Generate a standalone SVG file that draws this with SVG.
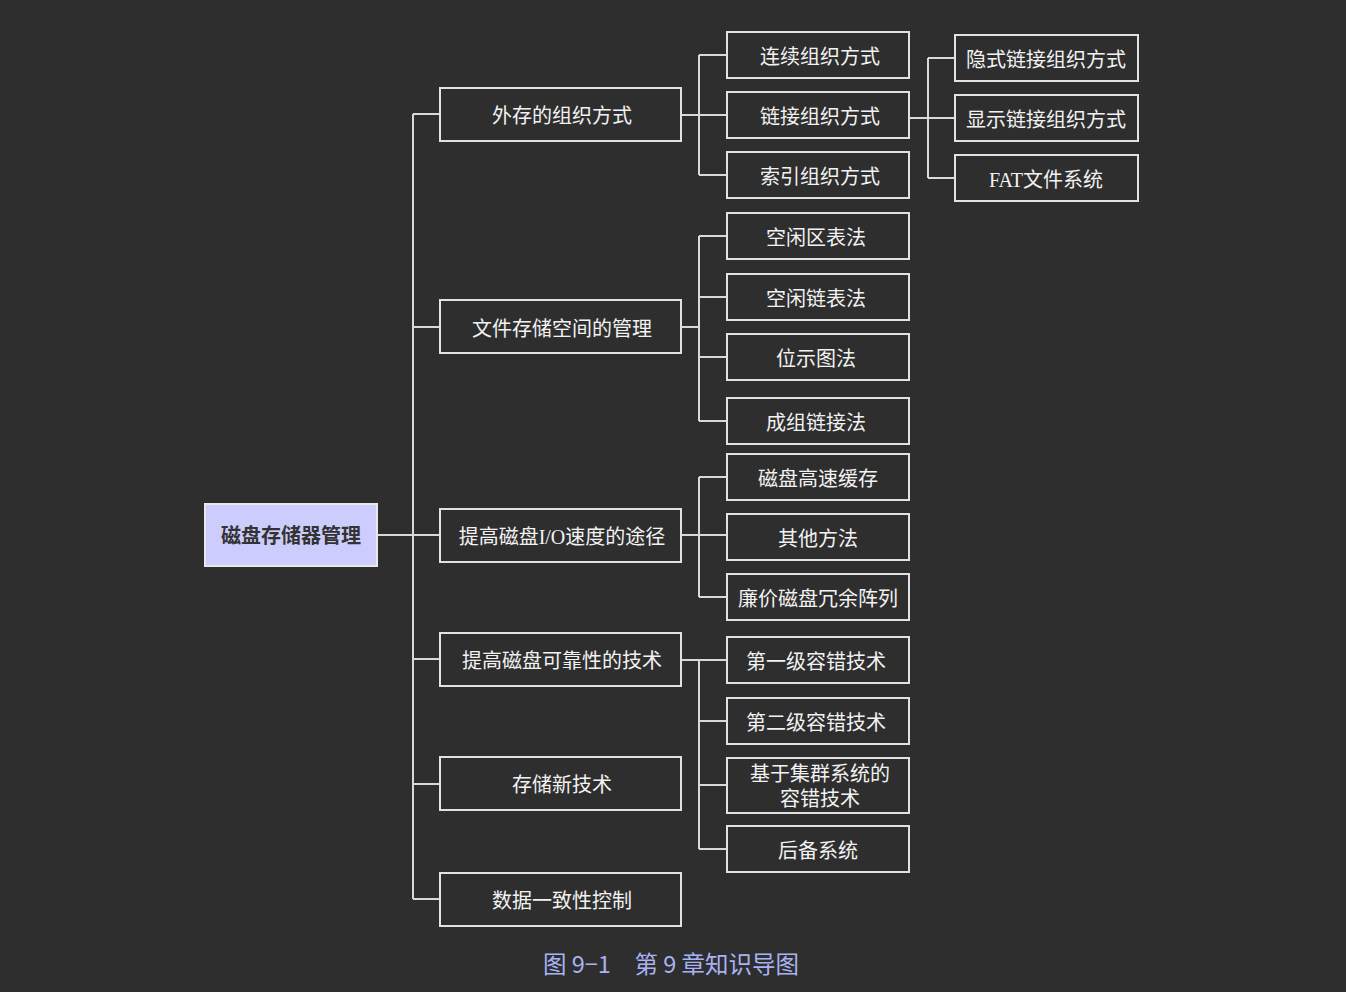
<svg xmlns="http://www.w3.org/2000/svg" width="1346" height="992" viewBox="0 0 1346 992">
<style>
.bx{fill:#2e2e2e;stroke:#e2e2e2;stroke-width:2}
.t{font-family:"Liberation Serif","Noto Sans CJK SC",serif;font-size:20px;fill:#f2f2f2;text-anchor:middle;dominant-baseline:central}
.c{fill:none;stroke:#d9d9d9;stroke-width:2}
</style>
<rect width="1346" height="992" fill="#2e2e2e"/>
<g id="connectors">
<path class="c" d="M377 535H440M413 114V899M413 114H440M413 327H440M413 659H440M413 784H440M413 899H440"/>
<path class="c" d="M681 115H726M699 55V175M699 55H726M699 175H726"/>
<path class="c" d="M909 118H955M928 58V178M928 58H955M928 178H955"/>
<path class="c" d="M681 327H699M699 236V421M699 236H726M699 297H726M699 357H726M699 421H726"/>
<path class="c" d="M681 535H726M699 477V597M699 477H726M699 597H726"/>
<path class="c" d="M681 660H726M699 660V849M699 721H726M699 785H726M699 849H726"/>
</g>
<g id="root"><rect x="205" y="504" width="172" height="62" fill="#ccccff" stroke="#e8e8e8" stroke-width="2"/><text class="t" x="291" y="536" style="fill:#333;font-weight:bold">磁盘存储器管理</text></g>
<g id="n1"><rect class="bx" x="440" y="88" width="241" height="53"/><text class="t" x="562" y="115.5">外存的组织方式</text></g>
<g id="n2"><rect class="bx" x="440" y="300" width="241" height="53"/><text class="t" x="562" y="328.5">文件存储空间的管理</text></g>
<g id="n3"><rect class="bx" x="440" y="509" width="241" height="53"/><text class="t" x="562" y="536.5">提高磁盘I/O速度的途径</text></g>
<g id="n4"><rect class="bx" x="440" y="633" width="241" height="53"/><text class="t" x="562" y="660.5">提高磁盘可靠性的技术</text></g>
<g id="n5"><rect class="bx" x="440" y="757" width="241" height="53"/><text class="t" x="562" y="785">存储新技术</text></g>
<g id="n6"><rect class="bx" x="440" y="873" width="241" height="53"/><text class="t" x="562" y="900.5">数据一致性控制</text></g>
<g id="n1a"><rect class="bx" x="727" y="32" width="182" height="46"/><text class="t" x="820" y="56.5">连续组织方式</text></g>
<g id="n1b"><rect class="bx" x="727" y="92" width="182" height="46"/><text class="t" x="820" y="116.5">链接组织方式</text></g>
<g id="n1c"><rect class="bx" x="727" y="152" width="182" height="46"/><text class="t" x="820" y="176.5">索引组织方式</text></g>
<g id="n1b1"><rect class="bx" x="955" y="35" width="183" height="46"/><text class="t" x="1046" y="59.5">隐式链接组织方式</text></g>
<g id="n1b2"><rect class="bx" x="955" y="95" width="183" height="46"/><text class="t" x="1046" y="119.5">显示链接组织方式</text></g>
<g id="n1b3"><rect class="bx" x="955" y="155" width="183" height="46"/><text class="t" x="1046" y="180">FAT文件系统</text></g>
<g id="n2a"><rect class="bx" x="727" y="213" width="182" height="46"/><text class="t" x="816" y="237.5">空闲区表法</text></g>
<g id="n2b"><rect class="bx" x="727" y="274" width="182" height="46"/><text class="t" x="816" y="298.5">空闲链表法</text></g>
<g id="n2c"><rect class="bx" x="727" y="334" width="182" height="46"/><text class="t" x="816" y="358.5">位示图法</text></g>
<g id="n2d"><rect class="bx" x="727" y="398" width="182" height="46"/><text class="t" x="816" y="422.5">成组链接法</text></g>
<g id="n3a"><rect class="bx" x="727" y="454" width="182" height="46"/><text class="t" x="818" y="478.5">磁盘高速缓存</text></g>
<g id="n3b"><rect class="bx" x="727" y="514" width="182" height="46"/><text class="t" x="818" y="538.5">其他方法</text></g>
<g id="n3c"><rect class="bx" x="727" y="574" width="182" height="46"/><text class="t" x="818" y="598.5">廉价磁盘冗余阵列</text></g>
<g id="n4a"><rect class="bx" x="727" y="637" width="182" height="46"/><text class="t" x="816" y="661.5">第一级容错技术</text></g>
<g id="n4b"><rect class="bx" x="727" y="698" width="182" height="46"/><text class="t" x="816" y="722.5">第二级容错技术</text></g>
<g id="n4c"><rect class="bx" x="727" y="758" width="182" height="55"/><text class="t" x="820" y="774">基于集群系统的</text><text class="t" x="820" y="799">容错技术</text></g>
<g id="n4d"><rect class="bx" x="727" y="826" width="182" height="46"/><text class="t" x="818" y="850.5">后备系统</text></g>
<text x="671" y="963" style="font-family:'Noto Sans CJK SC',sans-serif;font-size:23.5px;fill:#a9b2f2;text-anchor:middle;dominant-baseline:central" xml:space="preserve">图 9−1　第 9 章知识导图</text>
</svg>
